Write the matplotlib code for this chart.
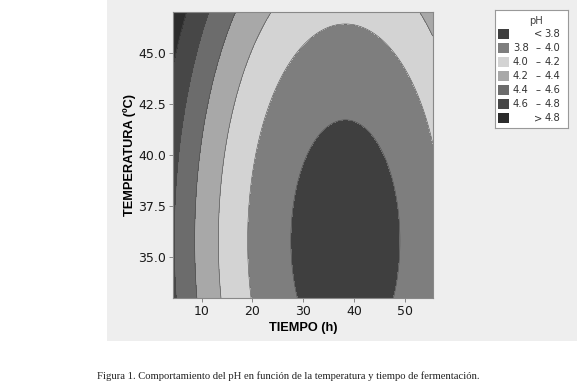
import matplotlib.pyplot as plt
import numpy as np
from matplotlib.patches import Rectangle

# --- response surface pH = f(tiempo, temperatura) ---
B0 = 8.161       # intercept
B_T = -0.05998   # tiempo (h)
B_TEMP = -0.18451  # temperatura (C)
B_TT = 0.000783  # tiempo^2
B_TEMP2 = 0.002577  # temperatura^2

TIME_RANGE = (4.4, 55.5)
TEMP_RANGE = (33.0, 47.0)

levels = [0.0, 3.8, 4.0, 4.2, 4.4, 4.6, 4.8, 10.0]
band_colors = ['#3f3f3f', '#7e7e7e', '#d3d3d3', '#a8a8a8', '#6c6c6c', '#474747', '#2c2c2c']
legend_lo = ['', '3.8', '4.0', '4.2', '4.4', '4.6', '']
legend_hi = ['3.8', '4.0', '4.2', '4.4', '4.6', '4.8', '4.8']
legend_sym = ['<', '\u2013', '\u2013', '\u2013', '\u2013', '\u2013', '>']

x_ticks = [10, 20, 30, 40, 50]
y_ticks = [35.0, 37.5, 40.0, 42.5, 45.0]

W, H = 580, 386
fig = plt.figure(figsize=(W / 100, H / 100), dpi=100, facecolor='white')

# grey panel behind the chart
panel = fig.add_axes([107 / W, 1 - 341 / H, 470 / W, 341 / H])
panel.set_facecolor('#eeeeee')
panel.set_xticks([])
panel.set_yticks([])
for s in panel.spines.values():
    s.set_visible(False)

ax = fig.add_axes([173.3 / W, 1 - 298 / H, 259.4 / W, 286 / H])
t = np.linspace(TIME_RANGE[0], TIME_RANGE[1], 400)
temp = np.linspace(TEMP_RANGE[0], TEMP_RANGE[1], 400)
tt, TT = np.meshgrid(t, temp)
ph = B0 + B_T * tt + B_TEMP * TT + B_TT * tt ** 2 + B_TEMP2 * TT ** 2

ax.contourf(tt, TT, ph, levels=levels, colors=band_colors)
ax.contour(tt, TT, ph, levels=levels[1:-1], colors='#4a4a4a', linewidths=0.4)
ax.set_xlim(*TIME_RANGE)
ax.set_ylim(*TEMP_RANGE)
ax.set_xticks(x_ticks)
ax.set_yticks(y_ticks)
ax.set_yticklabels([f'{v:.1f}' for v in y_ticks])
ax.tick_params(labelsize=9, colors='#1a1a1a', length=3, width=0.6, pad=2)
ax.tick_params(axis='both', color='#777777')
for s in ax.spines.values():
    s.set_color('#888888')
    s.set_linewidth(0.8)
ax.set_xlabel('TIEMPO (h)', fontsize=9.2, fontweight='bold', family='Liberation Sans', labelpad=3)
ax.set_ylabel('TEMPERATURA (ºC)', fontsize=9.2, fontweight='bold', family='Liberation Sans', labelpad=2)

# legend box drawn in pixel units
lg = fig.add_axes([495 / W, 1 - 128 / H, 73 / W, 118 / H])
lg.set_xlim(495, 568)
lg.set_ylim(128, 10)
lg.set_facecolor('white')
lg.set_xticks([])
lg.set_yticks([])
for s in lg.spines.values():
    s.set_color('#999999')
    s.set_linewidth(0.8)
lg.text(536, 21, 'pH', ha='center', va='center', fontsize=7.2, color='#444444')
for i, c in enumerate(band_colors):
    yc = 33.5 + i * 14.1
    lg.add_patch(Rectangle((498, yc - 5), 11, 10, facecolor=c, edgecolor='none'))
    lg.text(538, yc, legend_sym[i], ha='center', va='center', fontsize=7.2, color='#333333')
    lg.text(560, yc, legend_hi[i], ha='right', va='center', fontsize=7.2, color='#333333')
    if legend_lo[i]:
        lg.text(513, yc, legend_lo[i], ha='left', va='center', fontsize=7.2, color='#333333')

fig.text(97 / W, 1 - 376 / H,
         'Figura 1. Comportamiento del pH en función de la temperatura y tiempo de fermentación.',
         ha='left', va='center', fontsize=7.7, family='Liberation Serif', color='#222222')

fig.savefig('out.png', dpi=100, facecolor='white')
